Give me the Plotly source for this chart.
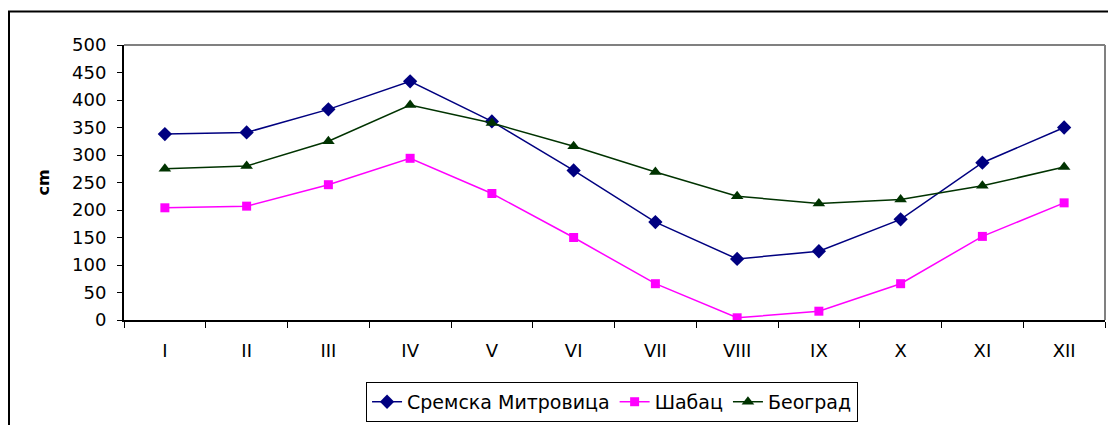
import plotly.graph_objects as go

months = ["I", "II", "III", "IV", "V", "VI", "VII", "VIII", "IX", "X", "XI", "XII"]
sremska = [338, 341, 383, 434, 361, 272, 178, 111, 125, 183, 286, 350]
sabac = [204, 207, 246, 294, 230, 150, 66, 4, 16, 66, 152, 213]
beograd = [275, 280, 325, 391, 358, 316, 269, 225, 212, 219, 244, 278]
y_ticks = list(range(0, 501, 50))

W, H = 1108, 425
L, R, T, B = 124, 3, 45, 100
pw, ph = W - L - R, H - T - B

def px_x(p):
    return (p - L) / pw

def px_y(p):
    return (H - B - p) / ph

FONT = "DejaVu Sans, Arial, sans-serif"

fig = go.Figure()
fig.add_trace(go.Scatter(x=months, y=sremska, name="Сремска Митровица", mode="lines+markers",
                         line=dict(color="#000080", width=1.5),
                         marker=dict(symbol="diamond", size=11, color="#000080")))
fig.add_trace(go.Scatter(x=months, y=sabac, name="Шабац", mode="lines+markers",
                         line=dict(color="#FF00FF", width=1.5),
                         marker=dict(symbol="square", size=9, color="#FF00FF")))
fig.add_trace(go.Scatter(x=months, y=beograd, name="Београд", mode="lines+markers",
                         line=dict(color="#003300", width=1.5),
                         marker=dict(symbol="triangle-up", size=11, color="#003300")))

fig.update_layout(
    width=W, height=H,
    margin=dict(l=L, r=R, t=T, b=B, pad=0),
    paper_bgcolor="white", plot_bgcolor="white",
    font=dict(family=FONT, size=18, color="black"),
    showlegend=True,
    legend=dict(orientation="h", x=0.4975, xanchor="center", y=px_y(388), yanchor="top",
                bordercolor="black", borderwidth=1, font=dict(size=19),
                itemsizing="trace", tracegroupgap=0),
    xaxis=dict(type="category", categoryorder="array", categoryarray=months,
               range=[-0.5, 11.5], tickson="boundaries", ticks="outside", ticklen=6,
               tickcolor="black", showline=True, linecolor="black", linewidth=2,
               showgrid=False, zeroline=False, ticklabelstandoff=13,
               tickfont=dict(size=18)),
    yaxis=dict(range=[0, 500], tickvals=y_ticks, ticks="outside", ticklen=5,
               tickcolor="black", showline=True, linecolor="black", linewidth=2,
               showgrid=False, zeroline=False, ticklabelstandoff=7,
               tickfont=dict(size=18),
               title=dict(text="<b>cm</b>", font=dict(size=16), standoff=18)),
    shapes=[
        dict(type="line", xref="paper", yref="paper", x0=0, x1=1, y0=1, y1=1,
             line=dict(color="#808080", width=2)),
        dict(type="line", xref="paper", yref="paper", x0=1, x1=1, y0=0, y1=1,
             line=dict(color="#808080", width=2)),
        dict(type="rect", xref="paper", yref="paper",
             x0=px_x(9), x1=px_x(1130), y0=px_y(450), y1=px_y(11),
             line=dict(color="black", width=2), fillcolor="rgba(0,0,0,0)", layer="below"),
    ],
)

fig.write_html("out.html", config={"displayModeBar": False},
               post_script="document.body.style.margin='0';document.body.style.overflow='hidden';")
